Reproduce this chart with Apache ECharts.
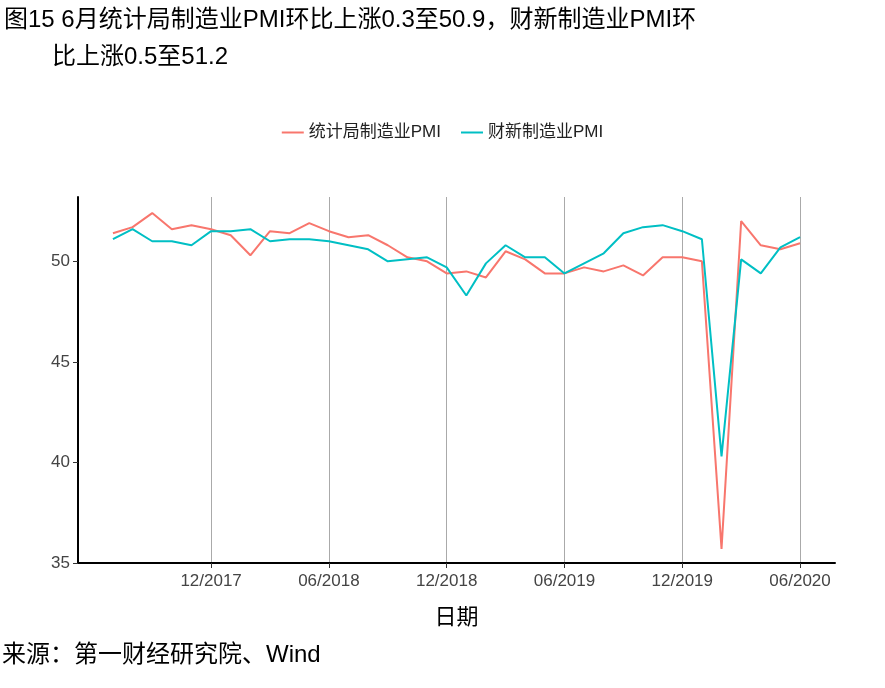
<!DOCTYPE html>
<html><head><meta charset="utf-8">
<script src="https://cdn.jsdelivr.net/npm/echarts@6/dist/echarts.min.js"></script>
<style>body{margin:0}#c{width:885px;height:688px}</style></head>
<body><div id="c"></div>
<script>
const months = ['07/2017','08/2017','09/2017','10/2017','11/2017','12/2017','01/2018','02/2018','03/2018','04/2018','05/2018','06/2018','07/2018','08/2018','09/2018','10/2018','11/2018','12/2018','01/2019','02/2019','03/2019','04/2019','05/2019','06/2019','07/2019','08/2019','09/2019','10/2019','11/2019','12/2019','01/2020','02/2020','03/2020','04/2020','05/2020','06/2020'];
const nbs = [51.4,51.7,52.4,51.6,51.8,51.6,51.3,50.3,51.5,51.4,51.9,51.5,51.2,51.3,50.8,50.2,50.0,49.4,49.5,49.2,50.5,50.1,49.4,49.4,49.7,49.5,49.8,49.3,50.2,50.2,50.0,35.7,52.0,50.8,50.6,50.9];
const caixin = [51.1,51.6,51.0,51.0,50.8,51.5,51.5,51.6,51.0,51.1,51.1,51.0,50.8,50.6,50.0,50.1,50.2,49.7,48.3,49.9,50.8,50.2,50.2,49.4,49.9,50.4,51.4,51.7,51.8,51.5,51.1,40.3,50.1,49.4,50.7,51.2];
const tickIdx = [5,11,17,23,29,35];
const chart = echarts.init(document.getElementById('c'));
const font = "'Liberation Sans', 'Noto Sans CJK SC', sans-serif";
chart.setOption({
  animation:false,
  textStyle:{fontFamily:font},
  graphic:[
    {type:'text',left:4,top:8,style:{text:'图15 6月统计局制造业PMI环比上涨0.3至50.9，财新制造业PMI环',font:'24px '+font,fill:'#000'}},
    {type:'text',left:52,top:45,style:{text:'比上涨0.5至51.2',font:'24px '+font,fill:'#000'}},
    {type:'text',left:2,top:643,style:{text:'来源：第一财经研究院、Wind',font:'24px '+font,fill:'#000'}}
  ],
  legend:{top:119,left:'center',itemWidth:22,itemGap:20,icon:'path://M0,0H22V2H0Z',textStyle:{fontSize:17,color:'#222'},data:['统计局制造业PMI','财新制造业PMI']},
  grid:{left:78,right:50,top:197,bottom:125},
  xAxis:{type:'value',min:-1.78,max:36.78,name:'日期',nameLocation:'middle',nameGap:44,nameTextStyle:{fontSize:22,color:'#000'},
    axisLine:{onZero:false,lineStyle:{color:'#000',width:2}},
    axisTick:{customValues:tickIdx,length:5,lineStyle:{color:'#333'}},
    axisLabel:{customValues:tickIdx,formatter:v=>months[Math.round(v)],fontSize:17,color:'#444',margin:10},
    splitLine:{show:true,lineStyle:{color:'#aaa',width:1}}},
  yAxis:{type:'value',min:35,max:53.2,interval:5,
    axisLine:{show:true,onZero:false,lineStyle:{color:'#000',width:2}},
    axisTick:{show:true,length:5,lineStyle:{color:'#333'}},
    axisLabel:{fontSize:17,color:'#444',showMaxLabel:false},
    splitLine:{show:false}},
  series:[
    {name:'统计局制造业PMI',type:'line',showSymbol:false,data:nbs.map((v,i)=>[i,v]),lineStyle:{color:'#F8766D',width:2},itemStyle:{color:'#F8766D'}},
    {name:'财新制造业PMI',type:'line',showSymbol:false,data:caixin.map((v,i)=>[i,v]),lineStyle:{color:'#00BFC4',width:2},itemStyle:{color:'#00BFC4'}}
  ]
});
</script></body></html>
